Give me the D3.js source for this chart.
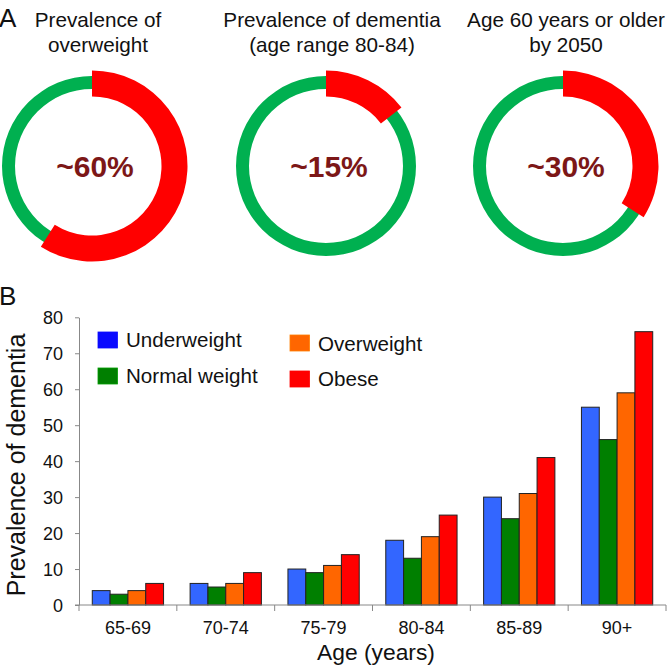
<!DOCTYPE html>
<html>
<head>
<meta charset="utf-8">
<script src="https://cdn.jsdelivr.net/npm/d3@7"></script>
<style>
  html, body { margin: 0; padding: 0; background: #fff; }
  text { font-family: "Liberation Sans", Arial, Helvetica, sans-serif; fill: #111; }
</style>
</head>
<body>
<svg id="chart" width="667" height="666"></svg>
<script>
// ---------- Data ----------
const donutTitles = [
  ["Prevalence of", "overweight"],
  ["Prevalence of dementia", "(age range 80-84)"],
  ["Age 60 years or older", "by 2050"]
];
const donutLabels = ["~60%", "~15%", "~30%"];
const donutShares = [59, 14.5, 34]; // drawn arc share (%)

const categories = ["65-69", "70-74", "75-79", "80-84", "85-89", "90+"];
const seriesNames = ["Underweight", "Normal weight", "Overweight", "Obese"];
const underweight = [4, 6, 10, 18, 30, 55];
const normalWeight = [3, 5, 9, 13, 24, 46];
const overweight = [4, 6, 11, 19, 31, 59];
const obese = [6, 9, 14, 25, 41, 76];
const yTicks = [0, 10, 20, 30, 40, 50, 60, 70, 80];

// ---------- Setup ----------
const svg = d3.select("#chart");
const barColors = ["#3366ff", "#007f00", "#ff6600", "#ff0000"];
const legendColors = ["#0a0aff", "#007f00", "#ff6600", "#ff0000"];
const seriesValues = [underweight, normalWeight, overweight, obese];

function stext(parent, x, y, str, size, sx, anchor, weight, fill) {
  return parent.append("text")
    .attr("transform", `translate(${x},${y}) scale(${sx},1)`)
    .attr("text-anchor", anchor || "start")
    .style("font-size", size + "px")
    .style("font-weight", weight || "normal")
    .style("fill", fill || "#111")
    .text(str);
}

// ---------- Panel A ----------
stext(svg, -1, 27, "A", 26, 1.0, "start");

const donutCx = [92, 326, 563];
const titleCx = [98, 332, 566];
const donutCy = 166;
const greenArc = d3.arc().innerRadius(77).outerRadius(90).startAngle(0).endAngle(2 * Math.PI);
const redArc = d3.arc().innerRadius(69.5).outerRadius(95.5).startAngle(0);

donutTitles.forEach((lines, i) => {
  lines.forEach((ln, j) => stext(svg, titleCx[i], 26.7 + j * 25.5, ln, 20.7, 1.0, "middle"));
  const g = svg.append("g").attr("transform", `translate(${donutCx[i]},${donutCy})`);
  g.append("path").attr("d", greenArc()).attr("fill", "#00b050");
  g.append("path").attr("d", redArc({endAngle: donutShares[i] / 100 * 2 * Math.PI})).attr("fill", "#ff0000");
  stext(g, 3, 11, donutLabels[i], 30, 1.0, "middle", "bold", "#7c1717");
});

// ---------- Panel B ----------
stext(svg, -1, 305, "B", 26, 1.0, "start");

const x0 = d3.scaleBand().domain(categories).range([79, 666]).paddingInner(0).paddingOuter(0);
const x1 = d3.scaleBand().domain(seriesNames).range([0, x0.bandwidth()]).paddingInner(0).paddingOuter(0.745);
const y = d3.scaleLinear().domain([0, 80]).range([605, 317.3]);

// bars
const groups = svg.append("g").selectAll("g").data(categories).join("g")
  .attr("transform", d => `translate(${x0(d)},0)`);
groups.selectAll("rect")
  .data((c, ci) => seriesNames.map((s, si) => ({s, si, v: seriesValues[si][ci]})))
  .join("rect")
  .attr("x", d => x1(d.s))
  .attr("y", d => y(d.v))
  .attr("width", x1.bandwidth())
  .attr("height", d => y(0) - y(d.v))
  .attr("fill", d => barColors[d.si])
  .attr("stroke", "#222")
  .attr("stroke-width", 1);

// y axis
const yAxis = svg.append("g").attr("transform", "translate(79,0)")
  .call(d3.axisLeft(y).tickValues(yTicks).tickSize(4).tickSizeOuter(0).tickPadding(10));
yAxis.select(".domain").attr("stroke", "#888");
yAxis.selectAll(".tick line").attr("stroke", "#888");
yAxis.selectAll(".tick text")
  .style("font-size", "18px").style("fill", "#111")
  .attr("x", -16).attr("dy", "0.36em");

// x axis
const xAxis = svg.append("g").attr("transform", "translate(0,605)");
xAxis.append("line").attr("x1", 75).attr("x2", 666).attr("y1", 0).attr("y2", 0).attr("stroke", "#888");
const boundaries = categories.map(c => x0(c)).concat([x0.range()[1]]);
xAxis.selectAll("line.tk").data(boundaries).join("line").attr("class", "tk")
  .attr("x1", d => d).attr("x2", d => d).attr("y1", 0).attr("y2", 6).attr("stroke", "#888");
categories.forEach(c => stext(xAxis, x0(c) + x0.bandwidth() / 2, 28.5, c, 18, 1.0, "middle"));

// axis titles
stext(svg, 376, 660, "Age (years)", 22.8, 1.0, "middle");
svg.append("text")
  .attr("transform", "translate(25,465) rotate(-90)")
  .attr("text-anchor", "middle")
  .style("font-size", "25px")
  .text("Prevalence of dementia");

// legend
const legendPos = [
  {x: 98, y: 332, tx: 126, ty: 346.5},
  {x: 98, y: 368, tx: 126, ty: 382.5},
  {x: 290, y: 335, tx: 318, ty: 350.5},
  {x: 290, y: 371, tx: 318, ty: 385.5}
];
seriesNames.forEach((s, i) => {
  const p = legendPos[i];
  svg.append("rect").attr("x", p.x).attr("y", p.y).attr("width", 19.5).attr("height", 16)
    .attr("fill", legendColors[i]).attr("stroke", d3.color(legendColors[i]).brighter(0.6)).attr("stroke-width", 0.8);
  stext(svg, p.tx, p.ty, s, 20.6, 1.0, "start");
});
</script>
</body>
</html>
